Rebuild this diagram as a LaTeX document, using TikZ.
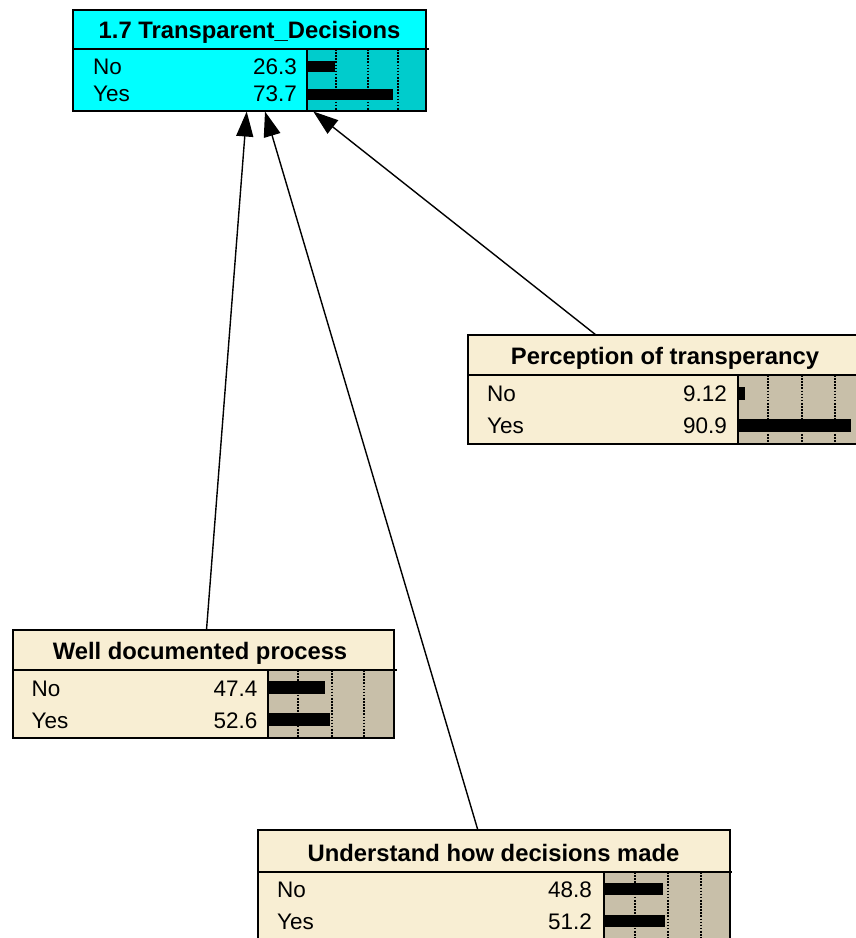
\documentclass[tikz,border=0pt]{standalone}
\usepackage{fontspec}
\setmainfont{Liberation Sans}
\usetikzlibrary{arrows.meta}
\definecolor{tdcyan}{RGB}{0,255,255}
\definecolor{tdbar}{RGB}{0,204,204}
\definecolor{paper}{RGB}{248,238,211}
\definecolor{barbg}{RGB}{200,191,169}

\begin{document}
\begin{tikzpicture}[x=1pt,y=-1pt,
  boxfill/.style={inner sep=0pt,outer sep=0pt,anchor=north west},
  frame/.style={line width=2pt},
  grid/.style={line width=1.7pt,dash pattern=on 1.6pt off 1.5pt},
  titletext/.style={font=\fontsize{23.8}{24}\selectfont\bfseries,anchor=base,inner sep=0pt},
  statelabel/.style={font=\fontsize{22.5}{22}\selectfont,anchor=base west,inner sep=0pt},
  statevalue/.style={font=\fontsize{22.5}{22}\selectfont,anchor=base east,inner sep=0pt},
  link/.style={line width=1.4pt,-{Triangle[length=25pt,width=17pt]}}
]
\useasboundingbox (0,0) rectangle (855,938);

% ---- 1.7 Transparent_Decisions
\node[boxfill,fill=tdcyan,minimum width=353pt,minimum height=100.5pt] (td) at (73,10) {};
\fill[tdbar] (307,49) rectangle (426,110.5);
\foreach \x in {336,368,398} \draw[grid] (\x,49) -- (\x,110.5);
\fill (307,61) rectangle (335,71.7);
\fill (307,89.3) rectangle (392.7,100);
\draw[frame] (73,49) -- (428.5,49);
\draw[frame] (307,49) -- (307,110.5);
\draw[frame] (td.north west) rectangle (td.south east);
\node[titletext] (tdt) at (249.5,38.5) {1.7 Transparent\_Decisions};
\node[statelabel] (tdno) at (93,74) {No};
\node[statelabel] (tdyes) at (93,101) {Yes};
\node[statevalue] (tdnov) at (297,74) {26.3};
\node[statevalue] (tdyesv) at (297,101) {73.7};

% ---- Perception of transperancy
\node[boxfill,fill=paper,minimum width=396.5pt,minimum height=109pt] (per) at (467.5,335) {};
\fill[barbg] (737.5,375) rectangle (864,444);
\foreach \x in {768.3,802.3,835} \draw[grid] (\x,375) -- (\x,444);
\fill (737.5,386.7) rectangle (745,400);
\fill (737.5,419) rectangle (850.7,431.7);
\draw[frame] (467.5,375) -- (864,375);
\draw[frame] (737.5,375) -- (737.5,444);
\draw[frame] (per.north west) rectangle (per.south east);
\node[titletext] (pert) at (665,364.5) {Perception of transperancy};
\node[statelabel] (perno) at (487,401.5) {No};
\node[statelabel] (peryes) at (487,433.5) {Yes};
\node[statevalue] (pernov) at (727,401.5) {9.12};
\node[statevalue] (peryesv) at (727,433.5) {90.9};

% ---- Well documented process
\node[boxfill,fill=paper,minimum width=381pt,minimum height=107.5pt] (well) at (12.5,630) {};
\fill[barbg] (267.5,670) rectangle (393.5,737.5);
\foreach \x in {297.7,332.3,364.3} \draw[grid] (\x,670) -- (\x,737.5);
\fill (267.5,681) rectangle (325,694);
\fill (267.5,713.3) rectangle (330,726);
\draw[frame] (12.5,670) -- (396.5,670);
\draw[frame] (267.5,670) -- (267.5,737.5);
\draw[frame] (well.north west) rectangle (well.south east);
\node[titletext] (wellt) at (200,659.5) {Well documented process};
\node[statelabel] (wellno) at (31.5,696) {No};
\node[statelabel] (wellyes) at (31.5,728) {Yes};
\node[statevalue] (wellnov) at (257.5,696) {47.4};
\node[statevalue] (wellyesv) at (257.5,728) {52.6};

% ---- Understand how decisions made
\node[boxfill,fill=paper,minimum width=472pt,minimum height=130.5pt] (und) at (257.5,829.5) {};
\fill[barbg] (603.5,872) rectangle (729.5,960);
\foreach \x in {635,668.3,700.7} \draw[grid] (\x,872) -- (\x,960);
\fill (603.5,883.3) rectangle (662.7,895);
\fill (603.5,915) rectangle (665,927);
\draw[frame] (257.5,872) -- (732,872);
\draw[frame] (603.5,872) -- (603.5,960);
\draw[frame] (und.north west) rectangle (und.south east);
\node[titletext] (undt) at (493.5,861.5) {Understand how decisions made};
\node[statelabel] (undno) at (277,897.5) {No};
\node[statelabel] (undyes) at (277,929.5) {Yes};
\node[statevalue] (undnov) at (592,897.5) {48.8};
\node[statevalue] (undyesv) at (592,929.5) {51.2};

% ---- links into the decision node
\draw[link] ([xshift=194pt]well.north west) -- ([xshift=173.7pt,yshift=-1pt]td.south west);
\draw[link] ([xshift=220.2pt]und.north west) -- ([xshift=192pt,yshift=-1pt]td.south west);
\draw[link] ([xshift=128.5pt]per.north west) -- ([xshift=240.3pt,yshift=-1pt]td.south west);
\end{tikzpicture}
\end{document}
